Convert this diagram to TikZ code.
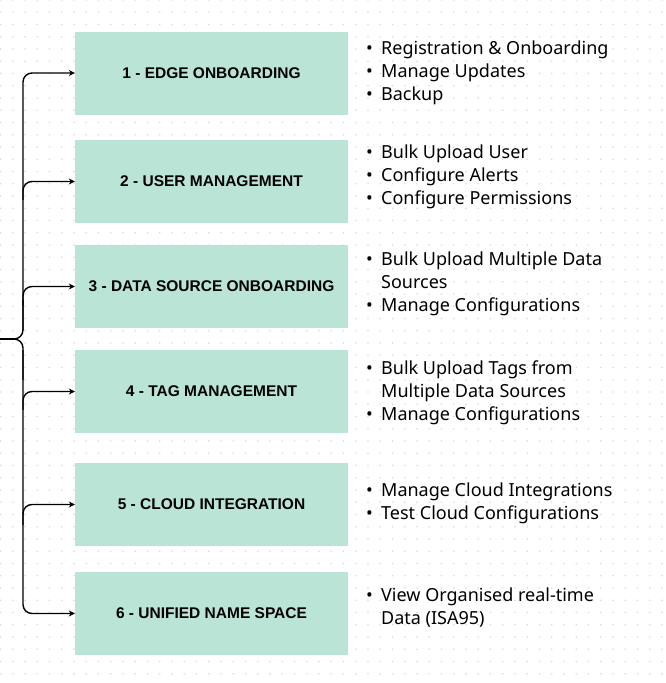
\documentclass[tikz,border=0pt]{standalone}
\usepackage{fontspec}
\setmainfont{Liberation Sans}
\newfontfamily\listfont{Noto Sans}
\usetikzlibrary{arrows.meta}
\definecolor{boxgreen}{RGB}{185,228,214}
\definecolor{griddot}{RGB}{218,218,218}
\tikzset{
  stage/.style={fill=boxgreen, minimum width=273pt, minimum height=83pt, inner sep=0pt,
    font=\fontsize{15.5}{17}\selectfont\bfseries},
  items/.style={anchor=north west, inner sep=0pt, align=left,
    font=\listfont\fontsize{18}{23}\selectfont},
  feed/.style={line width=1.4pt, rounded corners=9pt, -{Stealth[length=6pt,width=6pt]}},
}
\newcommand{\itm}{\makebox[15pt][l]{\textbullet}}
\newcommand{\cont}{\hspace*{15pt}}
\begin{document}
\begin{tikzpicture}[x=1pt, y=-1pt]
\useasboundingbox (0,0) rectangle (666,683);
% dotted background
\foreach \i in {0,...,54}
  \foreach \j in {0,...,55}
    \fill[griddot] (0.5+12.25*\i, 12.25*\j) circle (0.9pt);
% stages
\node[stage] (b1) at (211.5,73) {1 - EDGE ONBOARDING};
\node[stage] (b2) at (211.5,181.5) {2 - USER MANAGEMENT};
\node[stage] (b3) at (211.5,286.5) {3 - DATA SOURCE ONBOARDING};
\node[stage] (b4) at (211.5,391.5) {4 - TAG MANAGEMENT};
\node[stage] (b5) at (211.5,504.5) {5 - CLOUD INTEGRATION};
\node[stage] (b6) at (211.5,613.5) {6 - UNIFIED NAME SPACE};
% task lists
\node[items] (l1) at (366,40.5) {\itm Registration \& Onboarding\\ \itm Manage Updates\\ \itm Backup};
\node[items] (l2) at (366,144.5) {\itm Bulk Upload User\\ \itm Configure Alerts\\ \itm Configure Permissions};
\node[items] (l3) at (366,251.5) {\itm Bulk Upload Multiple Data\\ \cont Sources\\ \itm Manage Configurations};
\node[items] (l4) at (366,360.5) {\itm Bulk Upload Tags from\\ \cont Multiple Data Sources\\ \itm Manage Configurations};
\node[items] (l5) at (366,482.5) {\itm Manage Cloud Integrations\\ \itm Test Cloud Configurations};
\node[items] (l6) at (366,587.5) {\itm View Organised real-time\\ \cont Data (ISA95)};
% brace
\coordinate (tip) at (0,339);
\coordinate (knee) at (14,339);
\draw[line width=1.4pt] (tip) -- (knee);
\draw[line width=1.4pt, rounded corners=9pt] (knee) -| (23,300);
\draw[line width=1.4pt, rounded corners=9pt] (knee) -| (23,380);
% branches
\draw[feed] (23,330) |- (b1.west);
\draw[feed] (23,200) |- (b2.west);
\draw[feed] (23,305) |- (b3.west);
\draw[feed] (23,410) |- (b4.west);
\draw[feed] (23,525) |- (b5.west);
\draw[feed] (23,350) |- (b6.west);
\end{tikzpicture}
\end{document}
